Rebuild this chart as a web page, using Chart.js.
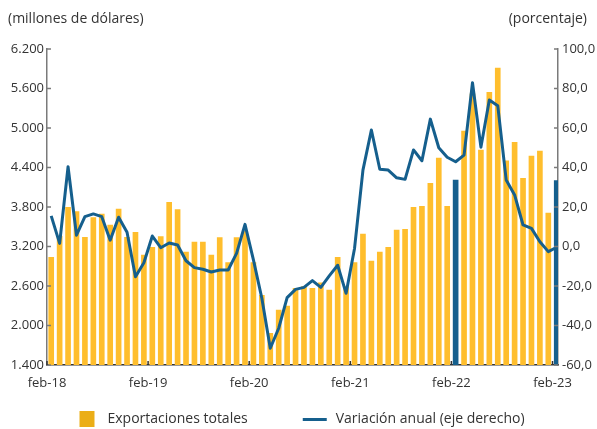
<!DOCTYPE html>
<html><head><meta charset="utf-8">
<script src="https://cdn.jsdelivr.net/npm/chart.js@4.4.0/dist/chart.umd.min.js"></script>
<style>html,body{margin:0;padding:0;background:#fff;}#wrap{width:597px;height:429px;}</style>
</head><body><div id="wrap"><canvas id="c" width="597" height="429"></canvas></div>
<script>
const categories = [
 'feb-18','mar-18','abr-18','may-18','jun-18','jul-18','ago-18','sep-18','oct-18','nov-18','dic-18','ene-19',
 'feb-19','mar-19','abr-19','may-19','jun-19','jul-19','ago-19','sep-19','oct-19','nov-19','dic-19','ene-20',
 'feb-20','mar-20','abr-20','may-20','jun-20','jul-20','ago-20','sep-20','oct-20','nov-20','dic-20','ene-21',
 'feb-21','mar-21','abr-21','may-21','jun-21','jul-21','ago-21','sep-21','oct-21','nov-21','dic-21','ene-22',
 'feb-22','mar-22','abr-22','may-22','jun-22','jul-22','ago-22','sep-22','oct-22','nov-22','dic-22','ene-23',
 'feb-23'];
const exportacionesTotales = [
 3036,3360,3795,3729,3340,3638,3694,3527,3770,3340,3416,3071,
 3188,3349,3871,3759,3116,3268,3268,3071,3334,2954,3334,3430,
 2954,2459,1881,2235,2296,2565,2590,2565,2650,2539,3036,2590,
 2954,3390,2980,3116,3188,3451,3461,3795,3811,4160,4544,3811,
 4210,4954,5520,4666,5542,5911,4503,4782,4236,4575,4651,3709,
 4200];
const variacionAnual = [
 15.5,1.6,40.4,5.7,15.1,16.5,15.1,3.2,14.8,7.2,-15.3,-8.2,
 5.3,-0.6,1.8,0.8,-7.2,-10.7,-11.5,-12.9,-11.9,-11.9,-3.5,11.2,
 -6.8,-26.2,-51.5,-41.4,-25.9,-21.7,-20.7,-17.3,-20.7,-14.9,-9.5,-23.7,
 -1.0,38.7,59.0,39.1,38.7,34.8,34.0,48.9,43.4,64.5,50.0,45.2,
 42.9,46.3,82.9,50.3,74.2,71.3,33.7,26.1,10.9,9.2,2.4,-2.6,
 -0.4];
const xTickLabels = ['feb-18','feb-19','feb-20','feb-21','feb-22','feb-23'];
const highlightedMonths = ['feb-22','feb-23'];
const leftTitle = '(millones de dólares)';
const rightTitle = '(porcentaje)';
const seriesNames = ['Exportaciones totales','Variación anual (eje derecho)'];

const YELLOW = '#FFBE2D', LEGEND_YELLOW = '#EBAE17', BLUE = '#155F8D', TEXT = '#333333';
const FONT = '"Open Sans", "Noto Sans", sans-serif';
const barColors = categories.map(c => highlightedMonths.includes(c) ? BLUE : YELLOW);
const xTickValues = xTickLabels.map(l => categories.indexOf(l) - 0.5);
const fmtThousands = v => String(v).replace(/\B(?=(\d{3})+(?!\d))/g, '.');
const fmtPct = v => v.toFixed(1).replace('.', ',');

function makeIcon(w, h, draw) {
  const c = document.createElement('canvas'); c.width = w; c.height = h;
  draw(c.getContext('2d')); return c;
}
const squareIcon = makeIcon(28, 16, g => { g.fillStyle = LEGEND_YELLOW; g.fillRect(7, 0, 15, 16); });
const lineIcon = makeIcon(28, 3, g => { g.fillStyle = BLUE; g.fillRect(2, 0, 24, 3); });

const LEGEND_PAD = 53;
const decor = {
  id: 'decor',
  afterLayout(chart) { chart.legend.top = 419 - LEGEND_PAD - 7; chart.legend.bottom = chart.height; },
  afterDraw(chart) {
    const {ctx, chartArea: a, scales} = chart;
    ctx.save();
    ctx.fillStyle = TEXT;
    ctx.font = '14px ' + FONT;
    ctx.textBaseline = 'middle';
    ctx.textAlign = 'left'; ctx.fillText(leftTitle, 8, 19);
    ctx.textAlign = 'right'; ctx.fillText(rightTitle, 587, 19);
    ctx.lineWidth = 1.5;
    ctx.strokeStyle = '#7a7a7a';
    scales.y.ticks.forEach(t => { const y = scales.y.getPixelForValue(t.value); ctx.beginPath(); ctx.moveTo(a.left, y); ctx.lineTo(a.left + 4, y); ctx.stroke(); });
    scales.y2.ticks.forEach(t => { const y = scales.y2.getPixelForValue(t.value); ctx.beginPath(); ctx.moveTo(a.right, y); ctx.lineTo(a.right - 4, y); ctx.stroke(); });
    ctx.strokeStyle = '#333';
    scales.x.ticks.forEach(t => { const x = scales.x.getPixelForValue(t.value); ctx.beginPath(); ctx.moveTo(x, a.bottom); ctx.lineTo(x, a.bottom - 4); ctx.stroke(); });
    ctx.restore();
  }
};

new Chart(document.getElementById('c'), {
  data: {
    datasets: [
      { type: 'bar', label: seriesNames[0], data: exportacionesTotales.map((v, i) => ({x: i, y: v})),
        yAxisID: 'y', xAxisID: 'x', backgroundColor: barColors, barThickness: 5, order: 2 },
      { type: 'line', label: seriesNames[1], data: variacionAnual.map((v, i) => ({x: i, y: v})),
        yAxisID: 'y2', xAxisID: 'x', borderColor: BLUE, backgroundColor: BLUE, borderWidth: 3,
        pointRadius: 0, tension: 0, borderJoinStyle: 'round', order: 1 }
    ]
  },
  options: {
    responsive: false, animation: false, devicePixelRatio: 1,
    layout: { padding: { top: 49, left: 0, right: 0, bottom: 0 } },
    plugins: {
      tooltip: { enabled: false },
      legend: {
        position: 'bottom', maxHeight: 24,
        labels: {
          usePointStyle: true, pointStyleWidth: 28, padding: LEGEND_PAD, color: TEXT,
          font: { family: FONT, size: 14 },
          generateLabels(chart) {
            return chart.data.datasets.map((d, i) => ({
              text: d.label, datasetIndex: i,
              fillStyle: i === 0 ? LEGEND_YELLOW : BLUE,
              strokeStyle: i === 0 ? LEGEND_YELLOW : BLUE,
              lineWidth: 0,
              pointStyle: i === 0 ? squareIcon : lineIcon,
              fontColor: TEXT, hidden: false
            }));
          }
        }
      }
    },
    scales: {
      x: {
        type: 'linear', position: 'bottom', min: -0.5, max: 60.15, offset: false,
        afterBuildTicks: s => { s.ticks = xTickValues.map(v => ({value: v})); },
        afterFit: s => { s.height = 40; },
        grid: { display: false, drawTicks: false, offset: false },
        border: { display: true, color: '#333', width: 1.5 },
        ticks: { autoSkip: false, maxRotation: 0, padding: 10, color: TEXT, font: { family: FONT, size: 13 },
          callback: v => categories[Math.round(v + 0.5)] }
      },
      y: {
        type: 'linear', position: 'left', min: 1400, max: 6200,
        afterFit: s => { s.width = 47; },
        grid: { display: false, drawTicks: false },
        border: { display: true, color: '#7a7a7a', width: 1.5 },
        ticks: { stepSize: 600, padding: 3, color: TEXT, font: { family: FONT, size: 13 }, callback: v => fmtThousands(v) }
      },
      y2: {
        type: 'linear', position: 'right', min: -60, max: 100,
        afterFit: s => { s.width = 39; },
        grid: { display: false, drawTicks: false },
        border: { display: true, color: '#7a7a7a', width: 1.5 },
        ticks: { stepSize: 20, padding: 4, color: TEXT, font: { family: FONT, size: 13 }, callback: v => fmtPct(v) }
      }
    }
  },
  plugins: [decor]
});
</script></body></html>
